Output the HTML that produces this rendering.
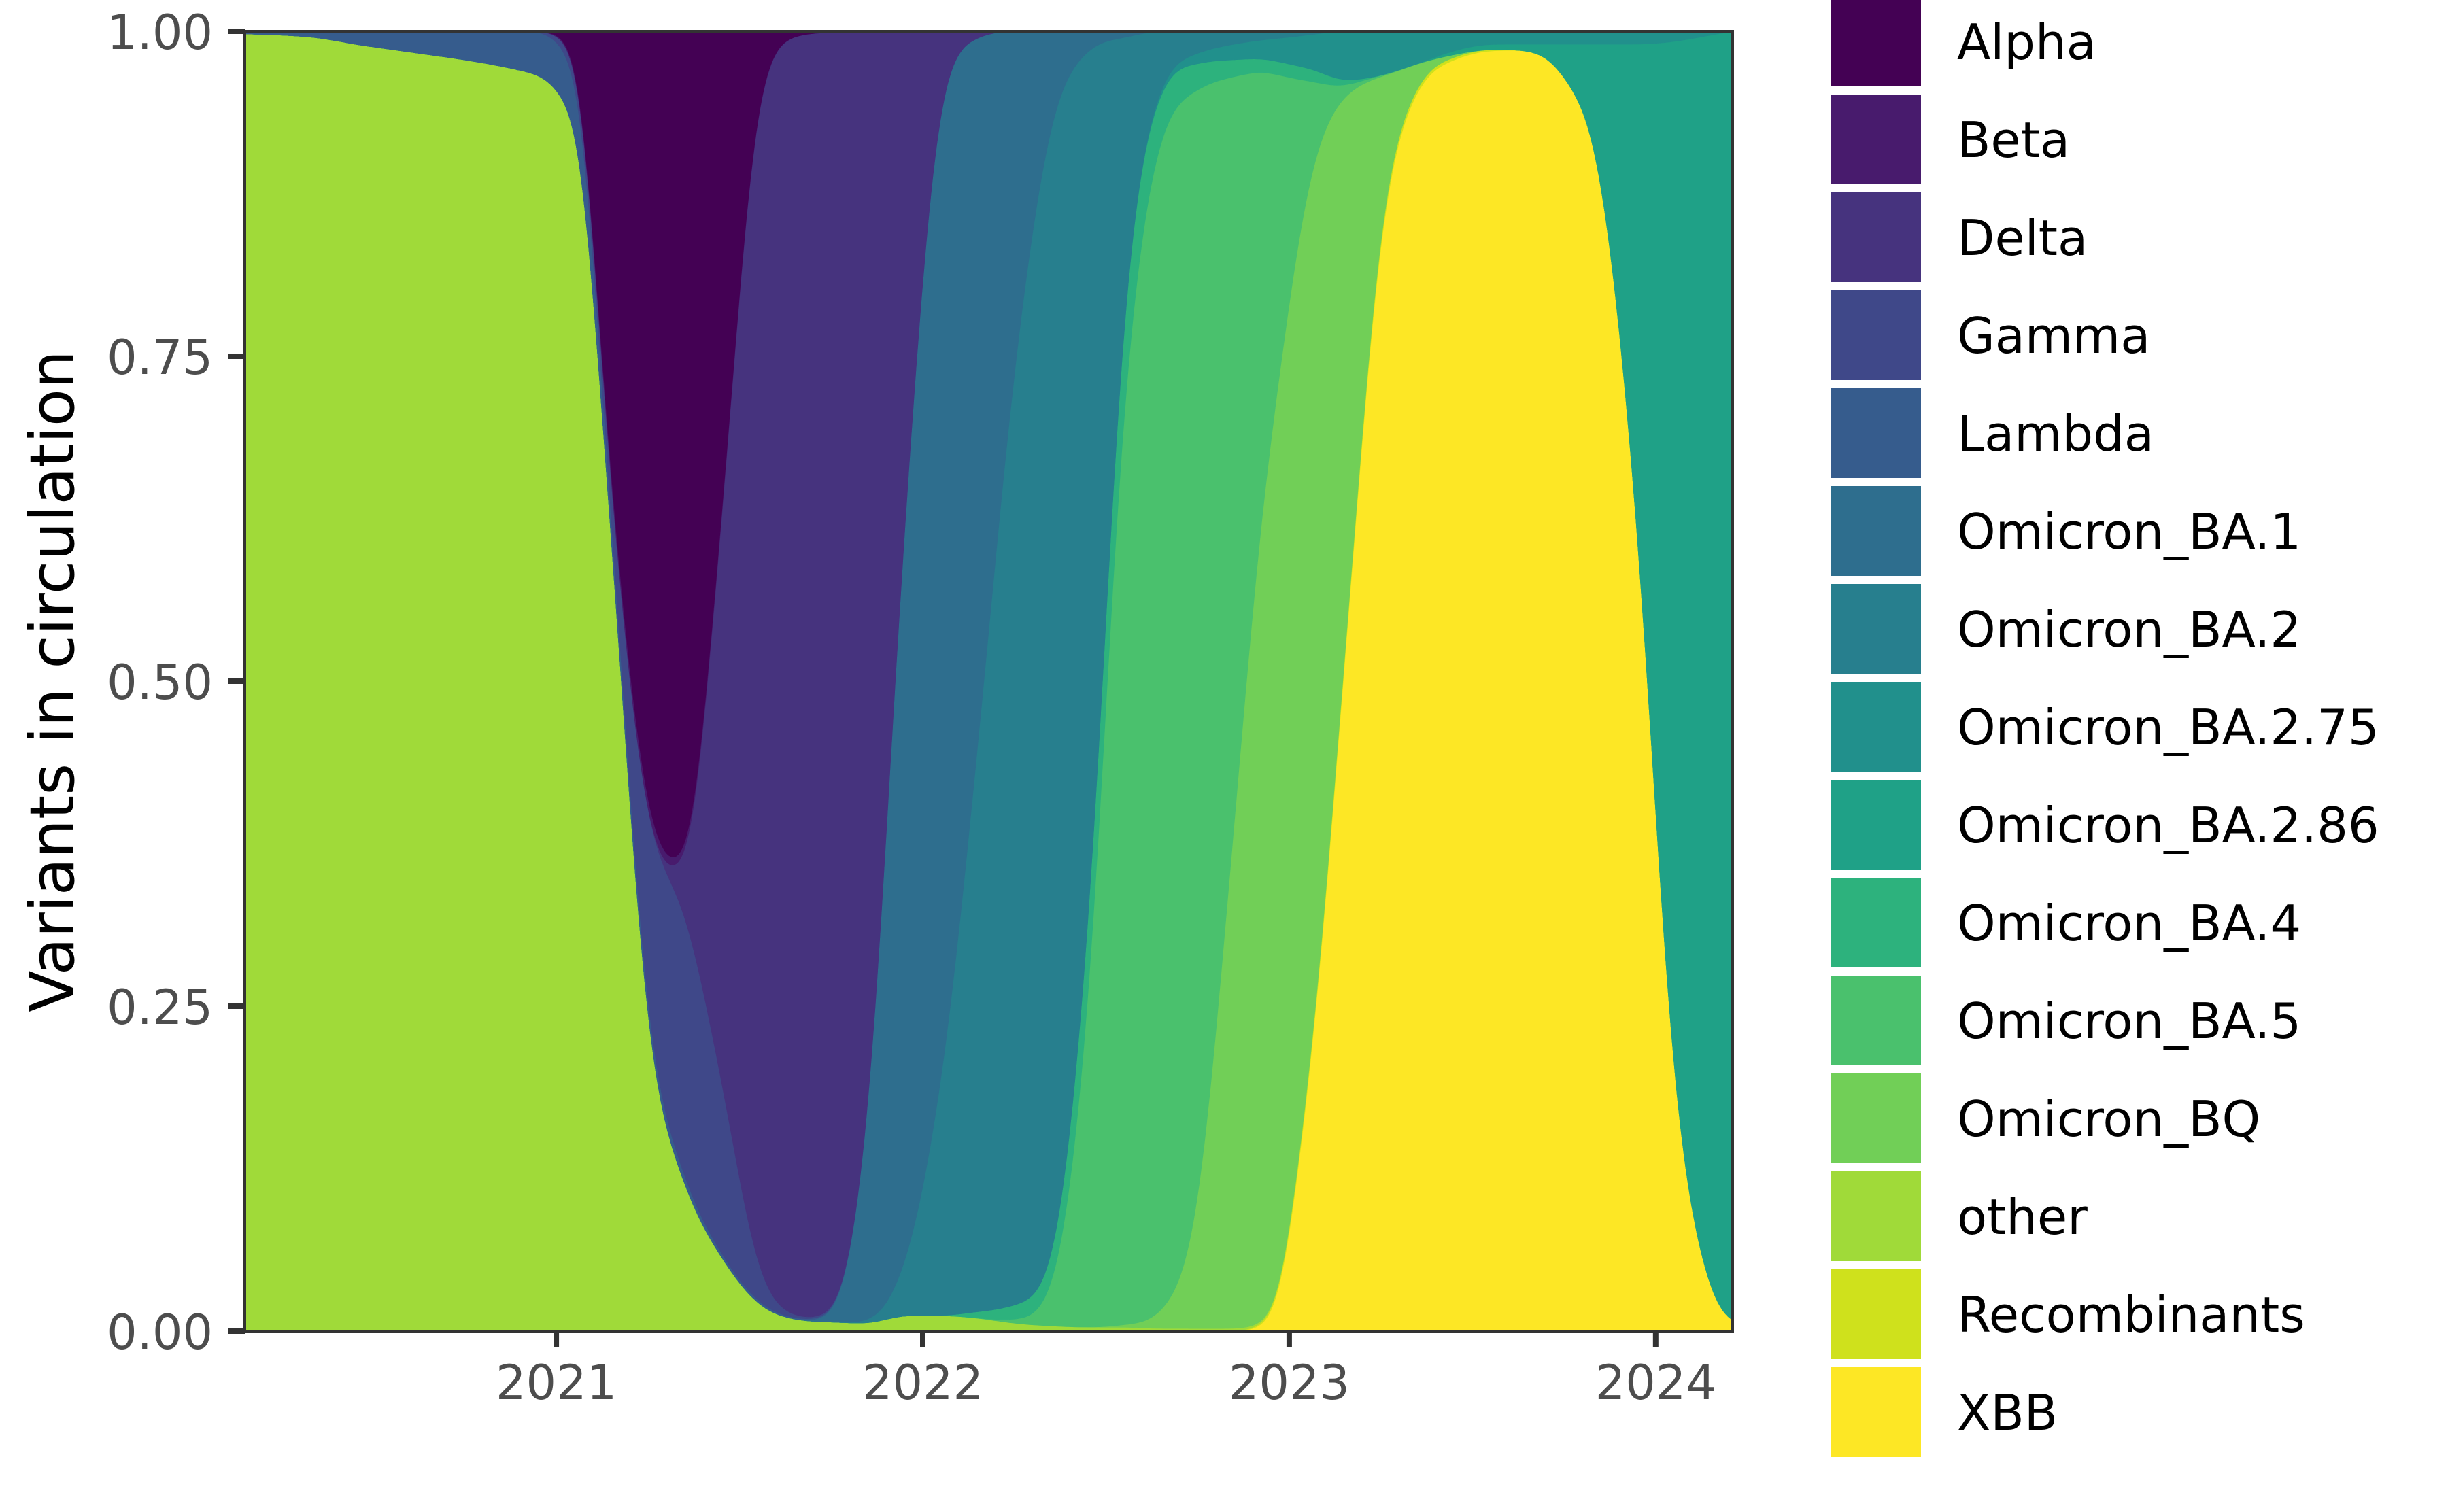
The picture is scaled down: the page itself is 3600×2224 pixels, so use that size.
<!DOCTYPE html>
<html><head><meta charset="utf-8"><style>
html,body{margin:0;padding:0;background:#fff;}
svg{display:block;font-family:"DejaVu Sans","Liberation Sans",sans-serif;}
</style></head><body>
<svg id="chart" width="3600" height="2224" viewBox="0 0 3600 2224">
<rect x="0" y="0" width="3600" height="2224" fill="#ffffff"/>
<g id="areas"></g>
<rect x="360" y="46" width="2188" height="1912" fill="none" stroke="#333333" stroke-width="4"/>
<g id="yaxis"></g>
<g id="xaxis"></g>
<text x="0" y="0" transform="translate(108,1002) rotate(-90)" text-anchor="middle" font-size="90" fill="#000">Variants in circulation</text>
<g id="legend"></g>
</svg>
<script>
const times = [2020.15,2020.25,2020.35,2020.45,2020.55,2020.65,2020.75,2020.85,2020.95,2021.05,2021.15,2021.25,2021.35,2021.45,2021.55,2021.65,2021.75,2021.85,2021.95,2022.05,2022.15,2022.25,2022.35,2022.45,2022.55,2022.65,2022.75,2022.85,2022.95,2023.05,2023.15,2023.25,2023.35,2023.45,2023.55,2023.65,2023.75,2023.85,2023.95,2024.05,2024.15,2024.21];
const seriesNames = ["Alpha","Beta","Delta","Gamma","Lambda","Omicron_BA.1","Omicron_BA.2","Omicron_BA.2.75","Omicron_BA.2.86","Omicron_BA.4","Omicron_BA.5","Omicron_BQ","other","Recombinants","XBB"];
const seriesColors = ["#440154","#481B6D","#46337E","#3F4889","#365C8D","#2E6E8E","#277F8E","#21908C","#1FA187","#2DB27D","#4AC16D","#71CF57","#A0DA39","#CFE11C","#FDE725"];
const alpha   = [0,0,0,0,0,0,0,0,0,0.013,0.348,0.60,0.639,0.377,0.053,0.004,0.001,0,0,0,0,0,0,0,0,0,0,0,0,0,0,0,0,0,0,0,0,0,0,0,0,0];
const beta    = [0,0,0,0,0,0,0,0,0,0.002,0.006,0.008,0.005,0.003,0.001,0,0,0,0,0,0,0,0,0,0,0,0,0,0,0,0,0,0,0,0,0,0,0,0,0,0,0];
const delta   = [0,0,0,0,0,0,0,0,0,0,0,0,0.033,0.426,0.897,0.984,0.986,0.84,0.38,0.05,0.005,0,0,0,0,0,0,0,0,0,0,0,0,0,0,0,0,0,0,0,0,0];
const gamma   = [0,0,0,0,0,0,0,0,0,0.01,0.022,0.152,0.204,0.134,0.026,0.002,0.001,0,0,0,0,0,0,0,0,0,0,0,0,0,0,0,0,0,0,0,0,0,0,0,0,0];
const lambda  = [0.002,0.003,0.005,0.01,0.014,0.018,0.022,0.027,0.033,0.04,0.014,0.01,0.006,0.003,0.002,0.001,0.001,0,0,0,0,0,0,0,0,0,0,0,0,0,0,0,0,0,0,0,0,0,0,0,0,0];
const ba1     = [0,0,0,0,0,0,0,0,0,0,0,0,0,0,0,0,0.005,0.152,0.57,0.76,0.545,0.26,0.07,0.015,0.005,0,0,0,0,0,0,0,0,0,0,0,0,0,0,0,0,0];
const ba2     = [0,0,0,0,0,0,0,0,0,0,0,0,0,0,0,0,0,0.002,0.038,0.178,0.435,0.72,0.88,0.685,0.205,0.042,0.017,0.01,0.006,0.003,0,0,0,0,0,0,0,0,0,0,0,0];
const ba275   = [0,0,0,0,0,0,0,0,0,0,0,0,0,0,0,0,0,0,0,0,0,0,0,0,0,0.003,0.008,0.012,0.016,0.025,0.038,0.034,0.025,0.015,0.01,0.01,0.01,0.01,0.01,0.008,0.003,0];
const ba286   = [0,0,0,0,0,0,0,0,0,0,0,0,0,0,0,0,0,0,0,0,0,0,0,0,0,0,0,0,0,0,0,0,0,0.003,0.004,0.005,0.025,0.10,0.37,0.802,0.967,0.995];
const ba4     = [0,0,0,0,0,0,0,0,0,0,0,0,0,0,0,0,0,0,0,0,0.005,0.011,0.02,0.06,0.07,0.035,0.02,0.013,0.01,0.01,0.004,0,0,0,0,0,0,0,0,0,0,0];
const ba5     = [0,0,0,0,0,0,0,0,0,0,0,0,0,0,0,0,0,0,0,0,0,0.003,0.026,0.237,0.715,0.905,0.862,0.575,0.278,0.082,0.008,0.001,0,0,0,0,0,0,0,0,0,0];
const bq      = [0,0,0,0,0,0,0,0,0,0,0,0,0,0,0,0,0,0,0,0,0,0,0,0,0.002,0.013,0.09,0.388,0.679,0.696,0.436,0.115,0.017,0.002,0,0,0,0,0,0,0,0];
const other   = [0.998,0.997,0.995,0.99,0.986,0.982,0.978,0.973,0.962,0.935,0.61,0.23,0.113,0.057,0.021,0.009,0.007,0.006,0.012,0.012,0.01,0.006,0.004,0.003,0.003,0.002,0.002,0.002,0.001,0,0,0,0,0,0,0,0,0,0,0,0,0];
const recomb  = [0,0,0,0,0,0,0,0,0,0,0,0,0,0,0,0,0,0,0,0,0,0,0,0,0,0,0,0,0.002,0.004,0.004,0.004,0.003,0.002,0.001,0,0,0,0,0,0,0];
const xbb     = [0,0,0,0,0,0,0,0,0,0,0,0,0,0,0,0,0,0,0,0,0,0,0,0,0,0,0,0,0.008,0.18,0.51,0.846,0.955,0.978,0.985,0.985,0.965,0.89,0.62,0.19,0.03,0.005];
const yTicks = [0,0.25,0.5,0.75,1];
const yTickLabels = ["0.00","0.25","0.50","0.75","1.00"];
const xTicks = [2021,2022,2023,2024];
const xTickLabels = ["2021","2022","2023","2024"];

const NS = "http://www.w3.org/2000/svg";
const P = {left:360,right:2548,top:46,bottom:1958};
const T0 = 2020.15, T1 = 2024.21;
function xScale(t){ return P.left + (t - T0) / (T1 - T0) * (P.right - P.left); }
function yScale(v){ return P.bottom - v * (P.bottom - P.top); }

function monotone(xs, ys){
  const n = xs.length, d = [], m = new Array(n);
  for (let i=0;i<n-1;i++) d.push((ys[i+1]-ys[i])/(xs[i+1]-xs[i]));
  m[0]=d[0]; m[n-1]=d[n-2];
  for (let i=1;i<n-1;i++){ m[i] = (d[i-1]*d[i] <= 0) ? 0 : (d[i-1]+d[i])/2; }
  for (let i=0;i<n-1;i++){
    if (d[i]===0){ m[i]=0; m[i+1]=0; continue; }
    const a=m[i]/d[i], b=m[i+1]/d[i], s=a*a+b*b;
    if (s>9){ const tau=3/Math.sqrt(s); m[i]=tau*a*d[i]; m[i+1]=tau*b*d[i]; }
  }
  return function(x){
    let i=0; while(i<n-2 && x>xs[i+1]) i++;
    const h=xs[i+1]-xs[i], t=(x-xs[i])/h, t2=t*t, t3=t2*t;
    const v=(2*t3-3*t2+1)*ys[i]+(t3-2*t2+t)*h*m[i]+(-2*t3+3*t2)*ys[i+1]+(t3-t2)*h*m[i+1];
    return Math.max(0,v);
  };
}
function gaussSmooth(arr, sigma){
  const r = Math.ceil(sigma*3), w = [];
  for (let j=-r;j<=r;j++) w.push(Math.exp(-j*j/(2*sigma*sigma)));
  return arr.map((_,k)=>{
    let s=0, ws=0;
    for (let j=-r;j<=r;j++){ const idx=Math.min(arr.length-1,Math.max(0,k+j)); s+=arr[idx]*w[j+r]; ws+=w[j+r]; }
    return s/ws;
  });
}

const seriesValues = [alpha,beta,delta,gamma,lambda,ba1,ba2,ba275,ba286,ba4,ba5,bq,other,recomb,xbb];
const N = 800;
const samples = [];
for (let k=0;k<=N;k++) samples.push(T0 + (T1-T0)*k/N);
const sigma = 0.028/((T1-T0)/N);
const curves = seriesValues.map(v => { const f = monotone(times, v); return gaussSmooth(samples.map(t=>f(t)), sigma); });
const stacked = samples.map((t,k) => {
  const vals = curves.map(c => c[k]);
  const tot = vals.reduce((a,b)=>a+b,0) || 1;
  return vals.map(v => v/tot);
});
const areas = document.getElementById('areas');
const lowers = samples.map(()=>0);
for (let s = seriesValues.length-1; s>=0; s--){
  const upper = samples.map((t,k)=>lowers[k]+stacked[k][s]);
  let d = "";
  samples.forEach((t,k)=>{ d += (k===0?"M":"L") + xScale(t).toFixed(1) + "," + yScale(upper[k]).toFixed(1); });
  for (let k=samples.length-1;k>=0;k--) d += "L" + xScale(samples[k]).toFixed(1) + "," + yScale(lowers[k]).toFixed(1);
  d += "Z";
  const p = document.createElementNS(NS,'path');
  p.setAttribute('d', d);
  p.setAttribute('fill', seriesColors[s]);
  p.setAttribute('stroke', seriesColors[s]);
  p.setAttribute('stroke-width', '0.6');
  
  
  areas.appendChild(p);
  upper.forEach((u,k)=>lowers[k]=u);
}

const yaxis = document.getElementById('yaxis');
yTicks.forEach((v,i)=>{
  const y = yScale(v);
  const ln = document.createElementNS(NS,'line');
  ln.setAttribute('x1',336); ln.setAttribute('x2',360); ln.setAttribute('y1',y); ln.setAttribute('y2',y);
  ln.setAttribute('stroke','#333333'); ln.setAttribute('stroke-width','8');
  
  
  yaxis.appendChild(ln);
  const tx = document.createElementNS(NS,'text');
  tx.setAttribute('x',313); tx.setAttribute('y',y+26); tx.setAttribute('text-anchor','end');
  tx.setAttribute('font-size','70'); tx.setAttribute('fill','#4D4D4D');
  tx.textContent = yTickLabels[i];
  
  
  yaxis.appendChild(tx);
});
const xaxis = document.getElementById('xaxis');
xTicks.forEach((v,i)=>{
  const x = xScale(v);
  const ln = document.createElementNS(NS,'line');
  ln.setAttribute('x1',x); ln.setAttribute('x2',x); ln.setAttribute('y1',1958); ln.setAttribute('y2',1982);
  ln.setAttribute('stroke','#333333'); ln.setAttribute('stroke-width','8');
  
  
  xaxis.appendChild(ln);
  const tx = document.createElementNS(NS,'text');
  tx.setAttribute('x',x); tx.setAttribute('y',2058); tx.setAttribute('text-anchor','middle');
  tx.setAttribute('font-size','70'); tx.setAttribute('fill','#4D4D4D');
  tx.textContent = xTickLabels[i];
  
  
  xaxis.appendChild(tx);
});
const legend = document.getElementById('legend');
seriesNames.forEach((nm,i)=>{
  const top = -5 + 144*i;
  const r = document.createElementNS(NS,'rect');
  r.setAttribute('x',2693); r.setAttribute('y',top); r.setAttribute('width',132); r.setAttribute('height',132);
  r.setAttribute('fill',seriesColors[i]);
  
  
  legend.appendChild(r);
  const tx = document.createElementNS(NS,'text');
  tx.setAttribute('x',2878); tx.setAttribute('y',top+66+26);
  tx.setAttribute('font-size','72'); tx.setAttribute('fill','#000');
  tx.textContent = nm;
  
  
  legend.appendChild(tx);
});
</script>
</body></html>
